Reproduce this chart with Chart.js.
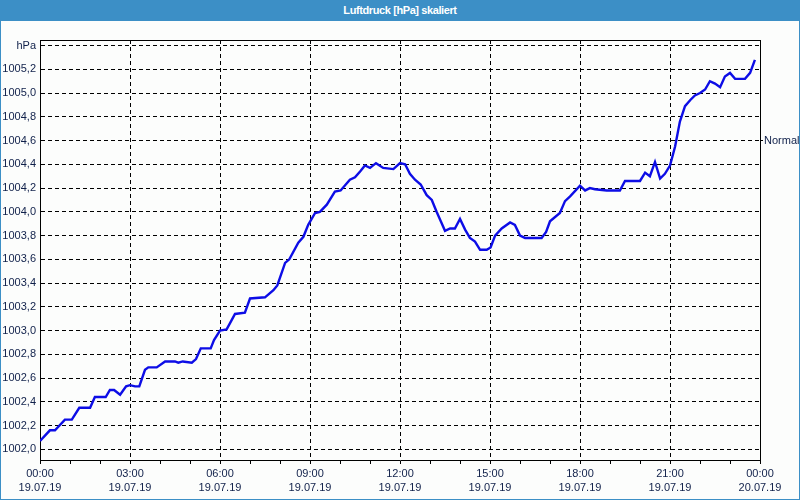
<!DOCTYPE html>
<html>
<head>
<meta charset="utf-8">
<script src="https://cdn.jsdelivr.net/npm/chart.js@4"></script>
<style>
  html, body { margin:0; padding:0; background:#fcfdfc; }
  #wrap { position:relative; width:800px; height:500px; box-sizing:border-box;
          border-left:1px solid #3c8fc6; border-right:1px solid #3c8fc6; border-bottom:1px solid #3c8fc6; }
  #title { position:absolute; left:-1px; top:0; width:800px; height:21px; background:#3c8fc6;
           color:#fff; font:bold 11px "Liberation Sans", Arial, sans-serif; letter-spacing:-0.4px; line-height:20px; text-align:center; }
  #c { position:absolute; left:0; top:21px; display:block; }
</style>
</head>
<body>
<div id="wrap">
  <div id="title">Luftdruck [hPa] skaliert</div>
  <canvas id="c" width="798" height="478"></canvas>
</div>
<script>
// Time in hours since 19.07.19 00:00
const times = [
  0.00,0.33,0.50,0.83,1.06,1.31,1.67,1.83,2.19,2.33,2.47,2.67,2.87,3.00,3.17,3.31,3.50,3.61,3.89,4.17,
  4.50,4.61,4.76,5.06,5.20,5.36,5.69,5.80,6.00,
  6.22,6.33,6.50,6.83,7.00,7.50,7.78,7.91,8.17,8.31,8.61,8.78,8.94,9.17,9.33,9.56,9.83,10.02,10.33,10.50,
  10.67,10.83,11.00,11.20,11.44,11.78,12.00,
  12.17,12.33,12.50,12.69,12.89,13.06,13.22,13.36,13.50,13.67,13.83,14.00,14.17,14.33,14.50,14.67,14.89,
  15.02,15.17,15.39,15.67,15.83,16.00,16.17,16.72,16.87,17.00,17.33,17.50,17.67,18.00,
  18.17,18.33,18.50,18.89,19.33,19.50,20.00,20.17,20.33,20.50,20.67,20.83,21.00,21.17,21.33,21.50,21.67,
  21.83,22.00,22.17,22.33,22.50,22.67,22.83,23.00,23.17,23.50,23.67,23.83
];
const pressure = [
  1002.07,1002.16,1002.16,1002.25,1002.25,1002.35,1002.35,1002.44,1002.44,1002.50,1002.50,1002.46,1002.53,1002.54,1002.53,1002.53,1002.67,1002.69,1002.69,1002.74,
  1002.74,1002.73,1002.74,1002.73,1002.76,1002.85,1002.85,1002.92,1003.00,
  1003.01,1003.06,1003.14,1003.15,1003.27,1003.28,1003.34,1003.38,1003.57,1003.60,1003.74,1003.79,1003.89,1003.99,1004.00,1004.06,1004.17,1004.18,1004.27,1004.29,
  1004.34,1004.39,1004.37,1004.41,1004.37,1004.36,1004.41,
  1004.40,1004.32,1004.27,1004.23,1004.14,1004.10,1004.00,1003.92,1003.84,1003.86,1003.86,1003.94,1003.85,1003.78,1003.75,1003.68,1003.68,
  1003.70,1003.80,1003.86,1003.91,1003.89,1003.80,1003.78,1003.78,1003.83,1003.92,1003.99,1004.09,1004.13,1004.22,
  1004.18,1004.20,1004.19,1004.18,1004.18,1004.26,1004.26,1004.33,1004.30,1004.42,1004.28,1004.32,1004.39,1004.55,1004.76,1004.89,1004.94,
  1004.98,1005.00,1005.03,1005.10,1005.08,1005.05,1005.14,1005.17,1005.12,1005.12,1005.17,1005.28
];
const yTickValues = [1002.0,1002.2,1002.4,1002.6,1002.8,1003.0,1003.2,1003.4,1003.6,1003.8,
                     1004.0,1004.2,1004.4,1004.6,1004.8,1005.0,1005.2,1005.4];
const unitLabel = 'hPa';
const hourTicks = [0,1,2,3,4,5,6,7,8,9,10,11,12,13,14,15,16,17,18,19,20,21,22,23,24];
const timeLabels = ['00:00','03:00','06:00','09:00','12:00','15:00','18:00','21:00','00:00'];
const dateLabels = ['19.07.19','19.07.19','19.07.19','19.07.19','19.07.19','19.07.19','19.07.19','19.07.19','20.07.19'];
const normalValue = 1004.6;
const normalLabel = 'Normal';

const Y_MIN = 1001.91, Y_MAX = 1005.447;
const TXT = '#10204a';
const FONT = { family: '"Liberation Sans", Arial, sans-serif', size: 11 };

const framePlugin = {
  id: 'frame',
  afterDraw(chart) {
    const { ctx, chartArea: a } = chart;
    ctx.save();
    ctx.strokeStyle = '#000';
    ctx.lineWidth = 1;
    ctx.beginPath();
    ctx.moveTo(a.left, Math.round(a.top) + 0.5);
    ctx.lineTo(a.right + 1, Math.round(a.top) + 0.5);
    ctx.stroke();
    ctx.restore();
  }
};

new Chart(document.getElementById('c'), {
  type: 'line',
  data: {
    datasets: [{
      data: times.map((t, i) => ({ x: t, y: pressure[i] })),
      borderColor: '#0d0de6',
      borderWidth: 2.4,
      pointRadius: 0,
      tension: 0,
      fill: false
    }]
  },
  options: {
    responsive: false,
    animation: false,
    events: [],
    layout: { padding: { top: 19, left: 0, right: 0, bottom: 0 } },
    plugins: { legend: { display: false }, tooltip: { enabled: false }, title: { display: false } },
    scales: {
      x: {
        type: 'linear', min: 0, max: 24,
        afterBuildTicks: s => { s.ticks = hourTicks.map(v => ({ value: v })); s.min = 0; s.max = 24; },
        afterFit: s => { s.height = 39; },
        ticks: {
          autoSkip: false, maxRotation: 0, minRotation: 0, padding: 3, color: TXT,
          font: { ...FONT, lineHeight: 1.27 },
          callback: v => (v % 3 === 0) ? [timeLabels[v / 3], dateLabels[v / 3]] : ''
        },
        grid: {
          color: c => (c.tick && c.tick.value % 3 === 0) ? '#000' : 'rgba(0,0,0,0)',
          tickColor: '#000', tickLength: 4, drawTicks: true, tickBorderDash: [], lineWidth: 1
        },
        border: { display: true, color: '#000', width: 1, dash: [4, 3] }
      },
      y: {
        type: 'linear', position: 'left', min: Y_MIN, max: Y_MAX,
        afterBuildTicks: s => { s.ticks = yTickValues.map(v => ({ value: v })); s.min = Y_MIN; s.max = Y_MAX; },
        afterFit: s => { s.width = 39; },
        ticks: {
          padding: 4, color: TXT, font: FONT,
          callback: (v, i, arr) => (i === arr.length - 1) ? unitLabel : v.toFixed(1).replace('.', ',')
        },
        grid: { color: '#000', drawTicks: false, lineWidth: 1 },
        border: { display: true, color: '#000', width: 1, dash: [4, 3] }
      },
      yR: {
        type: 'linear', position: 'right', min: Y_MIN, max: Y_MAX,
        afterBuildTicks: s => { s.ticks = [{ value: normalValue }]; s.min = Y_MIN; s.max = Y_MAX; },
        afterFit: s => { s.width = 39; },
        ticks: { padding: 1, color: TXT, font: FONT, callback: () => normalLabel },
        grid: { drawOnChartArea: false, drawTicks: true, tickLength: 3, color: '#000', tickColor: '#000' },
        border: { display: true, color: '#000', width: 1 }
      }
    }
  },
  plugins: [framePlugin]
});
</script>
</body>
</html>
